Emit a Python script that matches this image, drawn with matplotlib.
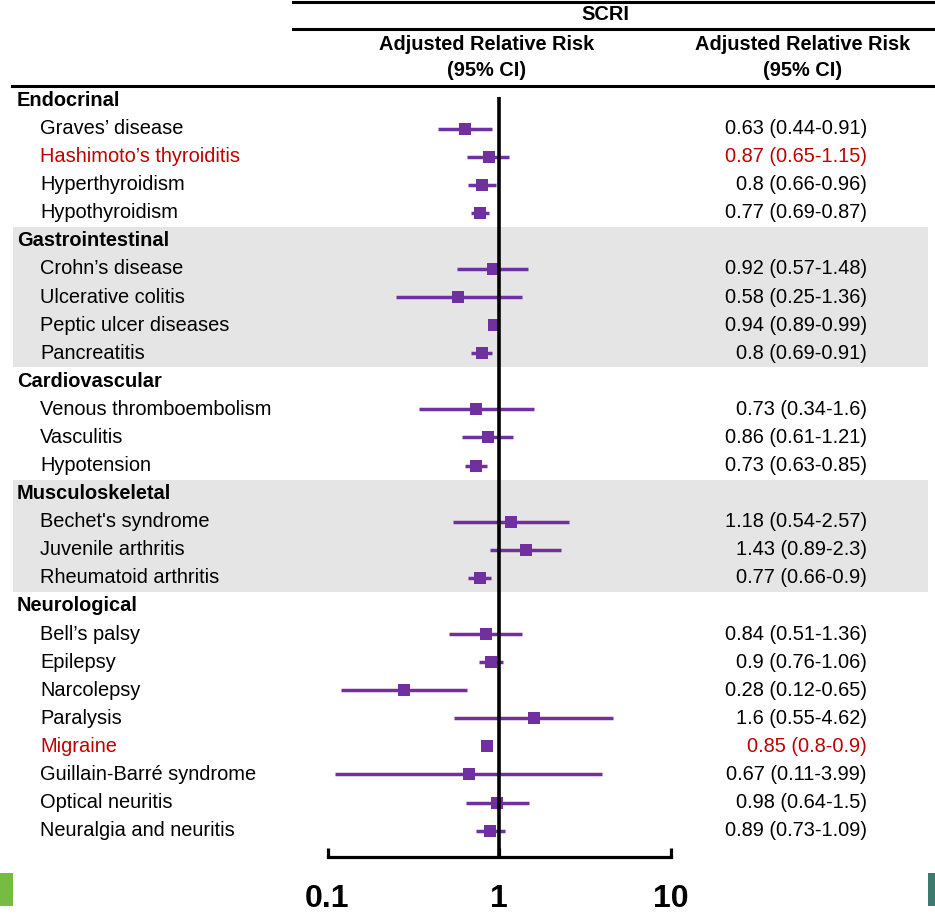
import matplotlib
matplotlib.use("Agg")
import matplotlib.pyplot as plt
import matplotlib.transforms as mtransforms
from matplotlib.patches import Rectangle
from matplotlib.lines import Line2D

plt.rcParams['font.family'] = ['Liberation Sans', 'DejaVu Sans']

# ---- data ----
groups = ["Endocrinal", "Gastrointestinal", "Cardiovascular", "Musculoskeletal", "Neurological"]
group_items = [
    ["Graves’ disease", "Hashimoto’s thyroiditis", "Hyperthyroidism", "Hypothyroidism"],
    ["Crohn’s disease", "Ulcerative colitis", "Peptic ulcer diseases", "Pancreatitis"],
    ["Venous thromboembolism", "Vasculitis", "Hypotension"],
    ["Bechet's syndrome", "Juvenile arthritis", "Rheumatoid arthritis"],
    ["Bell’s palsy", "Epilepsy", "Narcolepsy", "Paralysis", "Migraine",
     "Guillain-Barré syndrome", "Optical neuritis", "Neuralgia and neuritis"],
]
rr = [[0.63, 0.87, 0.8, 0.77],
      [0.92, 0.58, 0.94, 0.8],
      [0.73, 0.86, 0.73],
      [1.18, 1.43, 0.77],
      [0.84, 0.9, 0.28, 1.6, 0.85, 0.67, 0.98, 0.89]]
ci_low = [[0.44, 0.65, 0.66, 0.69],
          [0.57, 0.25, 0.89, 0.69],
          [0.34, 0.61, 0.63],
          [0.54, 0.89, 0.66],
          [0.51, 0.76, 0.12, 0.55, 0.8, 0.11, 0.64, 0.73]]
ci_high = [[0.91, 1.15, 0.96, 0.87],
           [1.48, 1.36, 0.99, 0.91],
           [1.6, 1.21, 0.85],
           [2.57, 2.3, 0.9],
           [1.36, 1.06, 0.65, 4.62, 0.9, 3.99, 1.5, 1.09]]
highlighted = ["Hashimoto’s thyroiditis", "Migraine"]
shaded_groups = ["Gastrointestinal", "Musculoskeletal"]
tick_values = [0.1, 1, 10]
tick_labels = ["0.1", "1", "10"]

W, H = 935, 915
fig = plt.figure(figsize=(W / 100, H / 100), dpi=100)

def fy(px):
    return 1 - px / H

def fx(px):
    return px / W

ROW0, DY = 100.5, 28.08
ax_top_px, ax_bot_px = 97.0, 856.5
ax_left_px, ax_right_px = 327.5, 670.5
ax = fig.add_axes([fx(ax_left_px), fy(ax_bot_px), fx(ax_right_px) - fx(ax_left_px),
                   (ax_bot_px - ax_top_px) / H])
ax.set_xscale('log')
ax.set_xlim(0.1, 10)
ax.set_ylim((ax_bot_px - ROW0) / DY, (ax_top_px - ROW0) / DY)
ax.patch.set_alpha(0)
for s in ['left', 'right', 'top']:
    ax.spines[s].set_visible(False)
ax.spines['bottom'].set_linewidth(2.3)
ax.spines['bottom'].set_zorder(6)
ax.set_yticks([])
ax.xaxis.set_minor_locator(matplotlib.ticker.NullLocator())
ax.set_xticks(tick_values)
ax.set_xticklabels(tick_labels, fontsize=23, fontweight='bold')
ax.tick_params(axis='x', direction='in', length=6.5, width=2.3, pad=20)

tr = mtransforms.blended_transform_factory(fig.transFigure, ax.transData)

PURPLE = '#7030a0'
RED = '#c00000'
row = 0
for g, items, r, lo, hi in zip(groups, group_items, rr, ci_low, ci_high):
    n = len(items)
    if g in shaded_groups:
        ax.add_patch(Rectangle((fx(13), row - 0.5), fx(928) - fx(13), n + 1,
                               transform=tr, facecolor='#e5e5e5', edgecolor='none',
                               clip_on=False, zorder=0))
    ax.text(fx(17), row, g, transform=tr, fontsize=14.4, fontweight='bold',
            va='center', ha='left', clip_on=False)
    row += 1
    for name, v, l, h in zip(items, r, lo, hi):
        col = RED if name in highlighted else 'black'
        ax.text(fx(40), row, name, transform=tr, fontsize=14.4, color=col,
                va='center', ha='left', clip_on=False)
        ax.text(fx(867), row, f"{v:g} ({l:g}-{h:g})", transform=tr, fontsize=14.4,
                color=col, va='center', ha='right', clip_on=False)
        ax.plot([l, h], [row, row], color=PURPLE, lw=2.5, solid_capstyle='butt',
                zorder=3, clip_on=False)
        ax.plot([v], [row], marker='s', markersize=8, color=PURPLE,
                markeredgewidth=0, zorder=4, clip_on=False)
        row += 1

ax.axvline(1, color='black', lw=2.6, zorder=5)

# header
for y, x0 in [(2, 293), (29, 293), (86, 12)]:
    fig.add_artist(Line2D([fx(x0), fx(935)], [fy(y), fy(y)], color='black', lw=2.2,
                          transform=fig.transFigure))
fig.text(fx(605), fy(14), "SCRI", fontsize=14.4, fontweight='bold', ha='center', va='center')
for cx in [487, 803]:
    fig.text(fx(cx), fy(44), "Adjusted Relative Risk", fontsize=14.4, fontweight='bold',
             ha='center', va='center')
    fig.text(fx(cx), fy(71), "(95% CI)", fontsize=14.4, fontweight='bold',
             ha='center', va='center')

# edge accents
fig.add_artist(Rectangle((0, fy(906)), fx(13), 33 / H, transform=fig.transFigure,
                         facecolor='#76bc43', edgecolor='none'))
fig.add_artist(Rectangle((fx(928), fy(906)), fx(7), 33 / H, transform=fig.transFigure,
                         facecolor='#3d7a6e', edgecolor='none'))

fig.savefig("out.png", dpi=100)
